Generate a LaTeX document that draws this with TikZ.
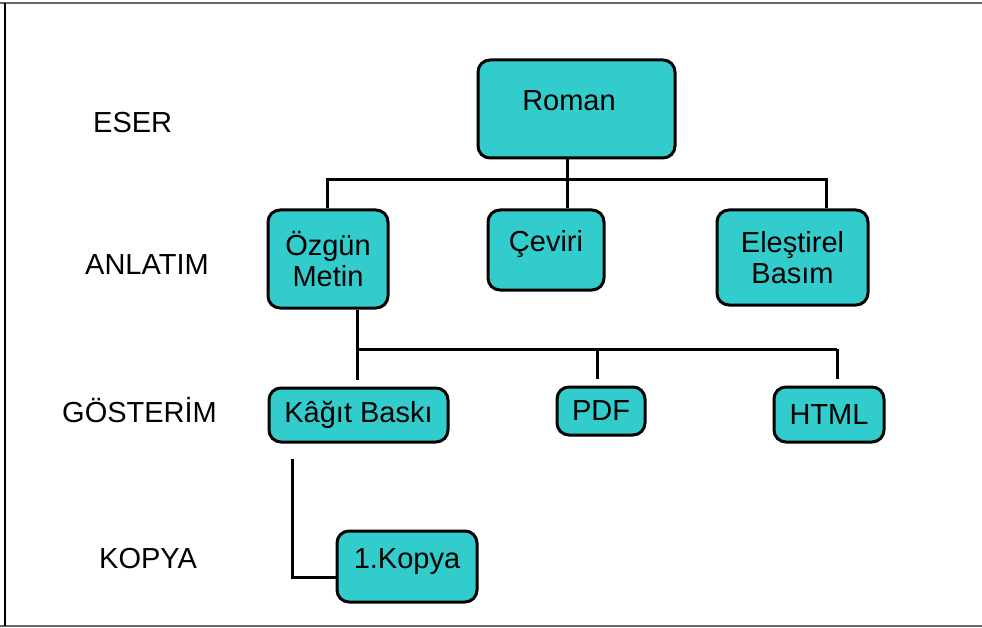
\documentclass[tikz,border=0pt]{standalone}
\usepackage{fontspec}
\setmainfont{Liberation Sans}
\usetikzlibrary{positioning}
\definecolor{boxteal}{HTML}{33CCCC}

\begin{document}
\begin{tikzpicture}[x=1pt,y=-1pt,
  every node/.style={font=\fontsize{29pt}{31pt}\selectfont,inner sep=2pt},
  box/.style={draw,line width=3pt,rounded corners=12pt,fill=boxteal,align=center},
  toptext/.style={text height=21pt,text depth=18pt},
  level/.style={anchor=base west},
  wire/.style={line width=3pt}]
  \useasboundingbox (0,0) rectangle (982,628);
  \draw[line width=2pt,gray!80!black] (0,3) -- (982,3);
  \draw[line width=2pt,gray!80!black] (0,626) -- (982,626);
  \draw[line width=2pt] (5,3) -- (5,626);

  \node (eser) at (91,133)[level]{ESER};
  \node (anlatim) at (83,275)[level]{ANLATIM};
  \node (gosterim) at (60,422)[level]{GÖSTERİM};
  \node (kopyalevel) at (97,568)[level]{KOPYA};

  \node (roman) at (576.5,109)[box,toptext,minimum width=197,minimum height=98]{Roman\hspace*{15pt}};
  \node (ozgun) at (328,259)[box,minimum width=120,minimum height=98]{Özgün\\Metin};
  \node (ceviri) at (546,250)[box,toptext,minimum width=116,minimum height=80]{Çeviri};
  \node (eles) at (792.5,257.5)[box,minimum width=151,minimum height=95]{Eleştirel\\Basım};
  \node (kagit) at (358.5,415)[box,minimum width=179,minimum height=54]{Kâğıt Baskı};
  \node (pdf) at (601,411)[box,minimum width=88,minimum height=48]{PDF};
  \node (html) at (829,414.5)[box,minimum width=110,minimum height=55]{HTML};
  \node (kopya) at (407,566.5)[box,toptext,minimum width=140,minimum height=71]{1.Kopya};

  \coordinate (j0) at (327,180);
  \coordinate (j1) at (567,180);
  \coordinate (j2) at (826,180);
  \coordinate (k0) at (357,349);
  \coordinate (k1) at (597,349);
  \coordinate (k2) at (837,349);
  \coordinate (kk) at (292,577);

  \draw[wire](roman.south -| j1)--(ceviri.north -| j1);
  \draw[wire](ozgun.north -| j0)--(j0)--(j2)--(eles.north -| j2);
  \draw[wire](ozgun.south -| k0)--(k0)--(k2);
  \draw[wire,shorten >=7pt](k0)--(kagit.north -| k0);
  \draw[wire,shorten >=7pt](k1)--(pdf.north -| k1);
  \draw[wire,shorten >=7pt](k2)--(html.north -| k2);
  \draw[wire,shorten <=15pt](kagit.south -| kk)--(kk)--(kk -| kopya.west);
\end{tikzpicture}
\end{document}
